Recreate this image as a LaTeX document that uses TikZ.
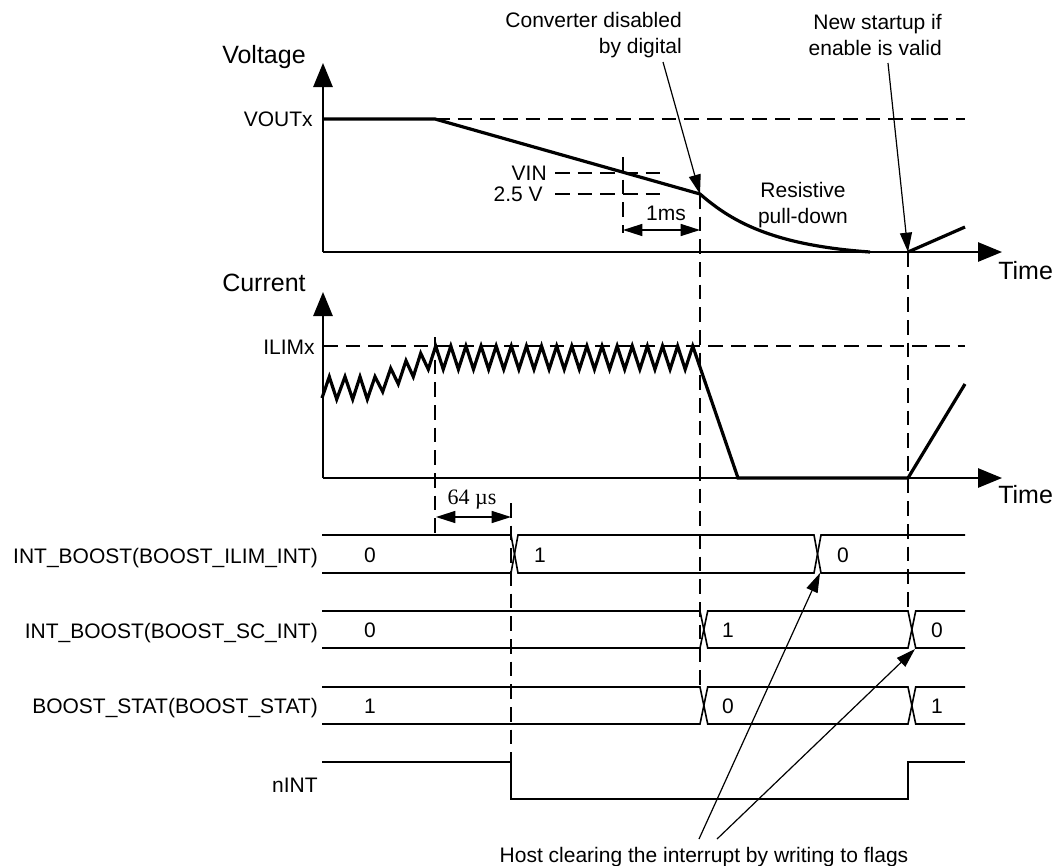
\documentclass[tikz,border=0pt]{standalone}
\usepackage{fontspec}
\setmainfont{Liberation Sans}
\newfontfamily\serifrm{Liberation Serif}
\usetikzlibrary{arrows.meta}
\begin{document}
\begin{tikzpicture}[x=0.75pt,y=-0.75pt,
 axis/.style={line width=1.2pt,-{Triangle[length=18pt,width=14.5pt]}},
 wave/.style={line width=2.4pt,line join=miter},
 guide/.style={line width=1.1pt,dash pattern=on 11pt off 6pt},
 bus/.style={line width=1.2pt},
 note/.style={line width=0.9pt,-{Triangle[length=14.5pt,width=9pt]}},
 dimarrow/.style={line width=1.1pt,{Triangle[length=14.5pt,width=9pt]}-{Triangle[length=14.5pt,width=9pt]}},
 lbl/.style={font=\fontsize{15.75}{19.5}\selectfont,inner sep=0pt},
 big/.style={font=\fontsize{18.75}{22}\selectfont,inner sep=0pt},
 serif/.style={font=\serifrm\fontsize{16.5}{19}\selectfont,inner sep=0pt},
]
\useasboundingbox (0,0) rectangle (1057,865);

% ---------------- Voltage plot ----------------
\coordinate (vo) at (323,252);
\coordinate (vtop) at (323,63);
\coordinate (vright) at (1002,252);
\draw[axis] (vo) -- (vtop);
\draw[axis] (vo) -- (vright);
\node[big,anchor=base west] (vlab) at (222,63) {Voltage};
\node[big,anchor=west] (vtime) at (998,271) {Time};
\node[lbl,anchor=east] (voutx) at (313,119) {VOUTx};
\node[lbl,anchor=east] (vin) at (547,173) {VIN};
\node[lbl,anchor=east] (v25) at (543,194) {2.5 V};

\coordinate (vstart) at (323,119);
\coordinate (vknee) at (435,119);
\coordinate (vcross) at (623,173);
\coordinate (dis) at (700,194);
\coordinate (vend) at (870,252);
\coordinate (restart) at (908,252);
\draw[guide] (vknee) -- (965,119);
\draw[guide] (555,173) -- (663,173);
\draw[guide] (555,194) -- (663,194);
\draw[guide] (623,157) -- (623,233);
\draw[wave] (vstart) -- (vknee) -- (dis) .. controls (730,220) and (770,245) .. (vend);
\draw[wave] (restart) -- (965,227);
\draw[dimarrow] (623,230) -- (700,230);
\node[lbl] (ms) at (666,213) {1ms};
\node[lbl,align=center] (pull) at (803,205) {Resistive\\pull-down};

% ---------------- Current plot ----------------
\coordinate (io) at (323,478);
\coordinate (itop) at (323,292);
\coordinate (iright) at (1002,478);
\draw[axis] (io) -- (itop);
\draw[axis] (io) -- (iright);
\node[big,anchor=base west] (ilab) at (222,291) {Current};
\node[big,anchor=west] (itime) at (998,495) {Time};
\node[lbl,anchor=east] (ilimx) at (315,347) {ILIMx};
\draw[guide] (323,346) -- (965,346);
\draw[wave] (322,398) -- (329.3,376.7) -- (336.7,399.3) -- (345,376.7) -- (352.7,399.3)
 -- (360,376.7) -- (367.3,399.3) -- (375,376.7) -- (382.7,391.7) -- (390.7,368.3)
 -- (398.3,384) -- (406,360.7) -- (413.3,376.7) -- (420.7,353.3) -- (428.3,369.3)
 -- (435.7,346)
 foreach \k in {0,...,16} { -- ({443.26+15.12*\k},369.3) -- ({450.82+15.12*\k},346) }
 -- (738,478) -- (908,478) -- (965,384);

% ---------------- Vertical guides ----------------
\draw[guide] (435,337) -- (435,535);
\draw[guide] (511,503) -- (511,762);
\draw[guide] (dis) -- (700,686);
\draw[guide] (restart) -- (908,611);
\draw[dimarrow] (436,517) -- (511,517);
\node[serif] (us) at (472,500) {64 µs};

% ---------------- Bus signals ----------------
\node[lbl,anchor=base east] (n1) at (318,563) {INT\_BOOST(BOOST\_ILIM\_INT)};
\node[lbl,anchor=base east] (n2) at (318,638) {INT\_BOOST(BOOST\_SC\_INT)};
\node[lbl,anchor=base east] (n3) at (318,713) {BOOST\_STAT(BOOST\_STAT)};
\node[lbl,anchor=base east] (n4) at (318,792) {nINT};

% ILIM
\draw[bus] (322,535) -- (511,535) -- (518,573) -- (814,573) -- (821,535) -- (965,535);
\draw[bus] (322,573) -- (511,573) -- (518,535) -- (814,535) -- (821,573) -- (965,573);
\node[lbl] (a0) at (370,555) {0};
\node[lbl] (a1) at (540,555) {1};
\node[lbl] (a2) at (843,555) {0};
% SC
\draw[bus] (322,611) -- (700,611) -- (707.7,648) -- (908,648) -- (915.7,611) -- (965,611);
\draw[bus] (322,648) -- (700,648) -- (707.7,611) -- (908,611) -- (915.7,648) -- (965,648);
\node[lbl] (b0) at (370,630) {0};
\node[lbl] (b1) at (728,630) {1};
\node[lbl] (b2) at (937,630) {0};
% STAT
\draw[bus] (322,687) -- (700,687) -- (707.7,724) -- (908,724) -- (915.7,687) -- (965,687);
\draw[bus] (322,724) -- (700,724) -- (707.7,687) -- (908,687) -- (915.7,724) -- (965,724);
\node[lbl] (c0) at (370,706) {1};
\node[lbl] (c1) at (728,706) {0};
\node[lbl] (c2) at (937,706) {1};
% nINT
\draw[bus] (322,762) -- (511,762) -- (511,799) -- (908,799) -- (908,762) -- (965,762);

% ---------------- Annotations ----------------
\node[lbl,align=right,anchor=east] (conv) at (682,35) {Converter disabled\\by digital};
\node[lbl,align=right,anchor=east] (newst) at (942,35) {New startup if\\enable is valid};
\node[lbl] (host) at (704,857) {Host clearing the interrupt by writing to flags};
\coordinate (ilimclr) at (820,573);
\coordinate (scclr) at (915,649);
\coordinate (h1) at (699,839);
\coordinate (h2) at (717,839);
\draw[note] (663,62) -- (dis);
\draw[note] (888,63) -- (restart);
\draw[note] (h1) -- (ilimclr);
\draw[note] (h2) -- (scclr);
\end{tikzpicture}
\end{document}
